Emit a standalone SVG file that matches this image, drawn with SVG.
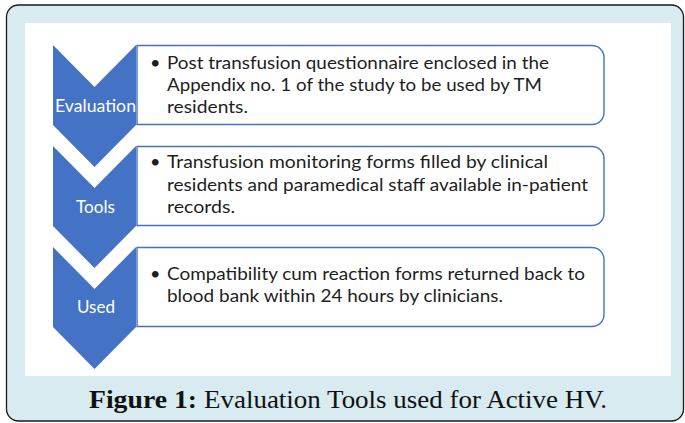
<svg xmlns="http://www.w3.org/2000/svg" width="685" height="423" viewBox="0 0 685 423">
  <defs>
    <style>
      .frame { fill: #d7ebf0; stroke: #1a1a1a; stroke-width: 1.3; }
      .panel { fill: #ffffff; }
      .chev { fill: #4472c4; }
      .box { fill: #ffffff; stroke: #4472c4; stroke-width: 1.4; }
      .lbl { font-family: Lato, "Liberation Sans", sans-serif; font-size: 18px; fill: #ffffff; text-anchor: middle; }
      .body { font-family: Lato, "Liberation Sans", sans-serif; font-size: 18px; fill: #1e1e1e; }
      .cap { font-family: "Liberation Serif", serif; font-size: 26px; fill: #111111; }
    </style>
  </defs>

  <!-- outer frame and white drawing area -->
  <rect class="frame" x="6.5" y="5" width="677" height="416" rx="12" ry="12"/>
  <rect class="panel" x="25" y="23" width="646" height="353"/>

  <!-- step 1 -->
  <g id="evaluation">
    <path class="box" d="M137,45.5 H592 A12,12 0 0 1 604,57.5 V112.5 A12,12 0 0 1 592,124.5 H137 Z"/>
    <path class="chev" d="M53,45 L94.5,87 L136,45 L136,125 L94.5,167 L53,125 Z"/>
    <text class="lbl" x="95.5" y="112" textLength="81" lengthAdjust="spacingAndGlyphs">Evaluation</text>
    <text class="body" x="150" y="69">•</text>
    <text class="body" x="167" y="69" textLength="382" lengthAdjust="spacingAndGlyphs">Post transfusion questionnaire enclosed in the</text>
    <text class="body" x="167" y="91" textLength="375" lengthAdjust="spacingAndGlyphs">Appendix no. 1 of the study to be used by TM</text>
    <text class="body" x="167" y="113" textLength="81" lengthAdjust="spacingAndGlyphs">residents.</text>
  </g>

  <!-- step 2 -->
  <g id="tools">
    <path class="box" d="M137,146.5 H592 A12,12 0 0 1 604,158.5 V213.5 A12,12 0 0 1 592,225.5 H137 Z"/>
    <path class="chev" d="M53,146 L94.5,188 L136,146 L136,226 L94.5,268 L53,226 Z"/>
    <text class="lbl" x="95.5" y="213" textLength="39" lengthAdjust="spacingAndGlyphs">Tools</text>
    <text class="body" x="150" y="168">•</text>
    <text class="body" x="167" y="168" textLength="381" lengthAdjust="spacingAndGlyphs">Transfusion monitoring forms filled by clinical</text>
    <text class="body" x="167" y="191" textLength="421" lengthAdjust="spacingAndGlyphs">residents and paramedical staff available in-patient</text>
    <text class="body" x="167" y="213" textLength="68" lengthAdjust="spacingAndGlyphs">records.</text>
  </g>

  <!-- step 3 -->
  <g id="used">
    <path class="box" d="M137,247.5 H592 A12,12 0 0 1 604,259.5 V314.5 A12,12 0 0 1 592,326.5 H137 Z"/>
    <path class="chev" d="M53,247 L94.5,289 L136,247 L136,327 L94.5,369 L53,327 Z"/>
    <text class="lbl" x="96" y="313" textLength="38" lengthAdjust="spacingAndGlyphs">Used</text>
    <text class="body" x="150" y="280">•</text>
    <text class="body" x="167" y="280" textLength="418" lengthAdjust="spacingAndGlyphs">Compatibility cum reaction forms returned back to</text>
    <text class="body" x="167" y="302" textLength="336" lengthAdjust="spacingAndGlyphs">blood bank within 24 hours by clinicians.</text>
  </g>

  <!-- caption -->
  <text class="cap" x="89" y="408" font-weight="bold" textLength="108" lengthAdjust="spacingAndGlyphs">Figure 1:</text>
  <text class="cap" x="204" y="408" textLength="403" lengthAdjust="spacingAndGlyphs">Evaluation Tools used for Active HV.</text>
</svg>
